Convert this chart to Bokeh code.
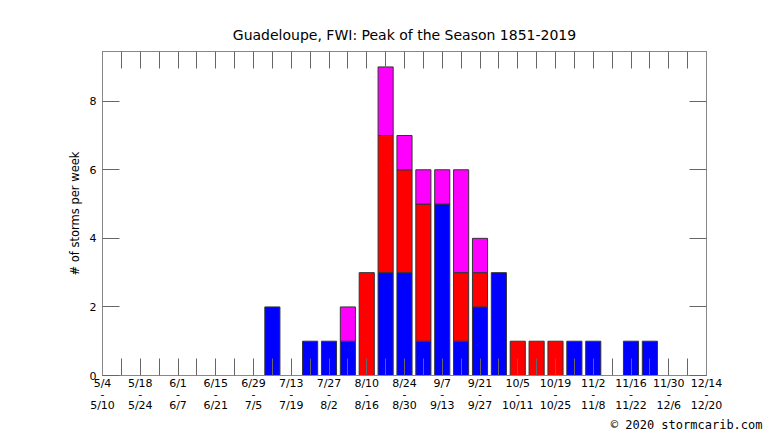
import numpy as np
from bokeh.plotting import figure
from bokeh.models import FixedTicker, LinearAxis, Range1d, Title
from bokeh.embed import file_html
from bokeh.resources import INLINE

# ---- data ----
week_index = list(range(33))  # weeks starting 5/4 ... 12/14
label_starts = ["5/4", "5/18", "6/1", "6/15", "6/29", "7/13", "7/27", "8/10", "8/24",
                "9/7", "9/21", "10/5", "10/19", "11/2", "11/16", "11/30", "12/14"]
label_ends = ["5/10", "5/24", "6/7", "6/21", "7/5", "7/19", "8/2", "8/16", "8/30",
              "9/13", "9/27", "10/11", "10/25", "11/8", "11/22", "12/6", "12/20"]
y_ticks = [0, 2, 4, 6, 8]

blue_counts = [0, 0, 0, 0, 0, 0, 0, 0, 0, 2, 0, 1, 1, 1, 0, 3, 3, 1, 5, 1, 2, 3,
               0, 0, 0, 1, 1, 0, 1, 1, 0, 0, 0]
red_counts = [0, 0, 0, 0, 0, 0, 0, 0, 0, 0, 0, 0, 0, 0, 3, 4, 3, 4, 0, 2, 1, 0,
              1, 1, 1, 0, 0, 0, 0, 0, 0, 0, 0]
magenta_counts = [0, 0, 0, 0, 0, 0, 0, 0, 0, 0, 0, 0, 0, 1, 0, 2, 1, 1, 1, 3, 1, 0,
                  0, 0, 0, 0, 0, 0, 0, 0, 0, 0, 0]

title_text = "Guadeloupe, FWI: Peak of the Season 1851-2019"
y_label = "# of storms per week"
credit_text = "\u00a9 2020 stormcarib.com"

FONT = "DejaVu Sans"
AXIS_COL = "#888888"
TICK_COL = "#666666"

p = figure(width=766, height=431, output_backend="svg", toolbar_location=None,
           x_range=Range1d(0, 32), y_range=Range1d(0, 9.45),
           x_axis_location=None, y_axis_location=None,
           min_border_left=102, min_border_right=60, min_border_top=51,
           min_border_bottom=56)
p.grid.visible = False
p.outline_line_color = AXIS_COL
p.background_fill_color = "white"
p.border_fill_color = "white"

p.title = Title(text=title_text, align="center", text_font=FONT, standoff=18,
                text_font_size="14px", text_font_style="normal", text_color="black")

# ---- stacked bars ----
x = np.array(week_index, dtype=float)
b = np.array(blue_counts, dtype=float)
r = np.array(red_counts, dtype=float)
m = np.array(magenta_counts, dtype=float)
stacks = [(b, np.zeros_like(b), "#0000ff"),
          (r, b, "#ff0000"),
          (m, b + r, "#ff00ff")]
for vals, base, col in stacks:
    mask = vals > 0
    p.vbar(x=x[mask], bottom=base[mask], top=(base + vals)[mask], width=0.8,
           fill_color=col, line_color="#333333", line_width=1)

# ---- axes ----
overrides = {}
for i in week_index:
    if i % 2 == 0:
        k = i // 2
        overrides[i] = f"{label_starts[k]}\n-\n{label_ends[k]}"
    else:
        overrides[i] = ""

def style(ax):
    ax.axis_line_color = AXIS_COL
    ax.major_tick_line_color = TICK_COL
    ax.major_tick_in = 17
    ax.major_tick_out = 0
    ax.minor_tick_line_color = None
    ax.major_label_text_font = FONT
    ax.major_label_text_font_size = "11px"
    ax.major_label_text_color = "black"

xb = LinearAxis(ticker=FixedTicker(ticks=week_index))
xb.major_label_overrides = overrides
style(xb)
xb.major_label_standoff = 1
xb.major_label_text_line_height = 0.88
p.add_layout(xb, "below")

xt = LinearAxis(ticker=FixedTicker(ticks=week_index))
style(xt)
xt.major_label_overrides = {i: "" for i in week_index}
p.add_layout(xt, "above")

yl = LinearAxis(ticker=FixedTicker(ticks=y_ticks), axis_label=y_label)
style(yl)
yl.major_label_standoff = 6
yl.axis_label_text_font = FONT
yl.axis_label_text_font_style = "normal"
yl.axis_label_text_font_size = "11.5px"
yl.axis_label_text_color = "black"
yl.axis_label_standoff = 5
p.add_layout(yl, "left")

yr = LinearAxis(ticker=FixedTicker(ticks=y_ticks))
style(yr)
yr.major_label_overrides = {i: "" for i in y_ticks}
p.add_layout(yr, "right")

credit = Title(text=credit_text, align="right", offset=-56, standoff=0,
               text_font="DejaVu Sans Mono", text_font_size="12px",
               text_font_style="normal", text_color="black")
p.add_layout(credit, "below")

open("out.html", "w").write(file_html(p, INLINE))
